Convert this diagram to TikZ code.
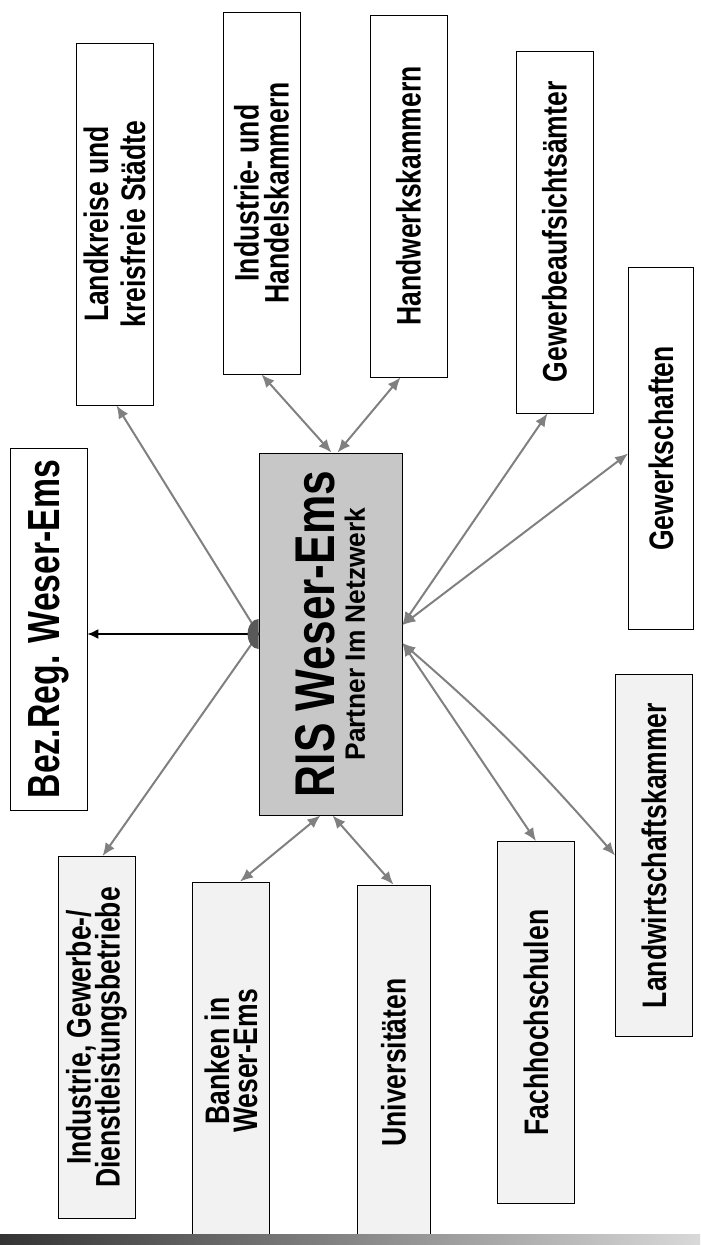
\documentclass[tikz,border=0pt]{standalone}
\usepackage{fontspec}
\setmainfont{Liberation Sans}
\usetikzlibrary{arrows.meta, calc, positioning}
\definecolor{linkGray}{gray}{0.5}
\definecolor{hubGray}{gray}{0.78}
\definecolor{blobGray}{gray}{0.35}
\definecolor{paleGray}{gray}{0.95}
\tikzset{
    partner/.style={draw, thin, fill=white, inner sep=0pt, minimum width=38.5pt, minimum height=181pt, font=\fontsize{17}{18.5}\selectfont\bfseries},
    hub/.style={draw, thin, fill=hubGray, inner sep=0pt, minimum width=71.5pt, minimum height=181pt, font=\fontsize{28}{15}\selectfont\bfseries},
    twoWay/.style={<->, >={Latex[length=6.5pt, width=5.5pt]}, draw=linkGray, line width=1pt},
    oneWay/.style={->, >={Latex[length=6.5pt, width=5.5pt]}, draw=linkGray, line width=1pt},
    govWay/.style={->, >={Latex[length=5.5pt, width=5pt]}, draw=black, line width=0.8pt},
}
\newcommand{\vtext}[2][0.78]{\rotatebox{90}{\scalebox{#1}[1]{\vbox{\lineskiplimit=-20pt\def\\{\cr}\halign{\hfil##\hfil\cr#2\crcr}}}}}
\newcommand{\chanBoth}[2]{\draw[twoWay] (#1) -- (#2);}
\newcommand{\chanOne}[2]{\draw[oneWay] (#1) -- (#2);}

\begin{document}
\begin{tikzpicture}[x=0.5pt, y=-0.5pt]
    \useasboundingbox (0,0) rectangle (700,1245);

        % upper partners
        \node[partner] (lk) at (114.5,224) {\vtext{Landkreise und\\kreisfreie Städte}};
        \node[partner, font=\fontsize{17}{15}\selectfont\bfseries] (ihk) at (261.5,193) {\raisebox{0pt}{\vtext{Industrie- und\\Handelskammern}}};
        \node[partner] (hwk) at (408.5,196) {\vtext{Handwerkskammern}};
        \node[partner] (gaa) at (554.5,232) {\vtext{Gewerbeaufsichtsämter}};
        \node[partner, minimum width=32.5pt] (gws) at (661,448.5) {\vtext{Gewerkschaften}};

        % centre
        \node[partner, font=\fontsize{22.5}{24}\selectfont\bfseries] (bez) at (48.5,629) {\vtext[0.75]{Bez.Reg. Weser-Ems}};
        \node[hub] (ris) at (330.5,634) {\vtext[0.79]{RIS Weser-Ems\\{\fontsize{14}{15}\selectfont\scalebox{1.19}[1]{Partner Im Netzwerk}}}};

        % lower partners
        \node[partner, fill=paleGray, font=\fontsize{17}{14.5}\selectfont\bfseries] (igd) at (96.5,1037.5) {\vtext{Industrie, Gewerbe-/\\Dienstleistungsbetriebe}};
        \node[partner, fill=paleGray, minimum height=179pt, font=\fontsize{17}{14}\selectfont\bfseries] (bank) at (231,1061) {\vtext{Banken in\\Weser-Ems}};
        \node[partner, fill=paleGray, minimum width=36.5pt, minimum height=177.5pt] (uni) at (393.5,1062.5) {\vtext{Universitäten}};
        \node[partner, fill=paleGray] (fhs) at (536,1022.5) {\vtext{Fachhochschulen}};
        \node[partner, fill=paleGray] (lwk) at (654,855.5) {\vtext{Landwirtschaftskammer}};

        \coordinate (risN1) at ($(ris.north)+(1,0)$);
        \coordinate (risN2) at ($(ris.north)+(7,0)$);
        \coordinate (risS1) at ($(ris.south)+(-10,0)$);
        \coordinate (risS2) at ($(ris.south)+(2,0)$);
        \coordinate (risE1) at ($(ris.east)+(0,-9)$);
        \coordinate (risE2) at ($(ris.east)+(0,9)$);

        \chanOne{ris.west}{[xshift=1pt]lk.south}
        \chanOne{ris.west}{[xshift=3pt]igd.north}
        \draw[govWay] (ris.west) -- (ris.west -| bez.east);
        \fill[blobGray] ($(ris.west)+(0,-15)$) arc[start angle=270, end angle=90, x radius=11, y radius=15] -- cycle;

        \chanBoth{ihk.south}{risN1}
        \chanBoth{[xshift=-4pt]hwk.south}{risN2}
        \chanBoth{[xshift=4.5pt]bank.north}{risS1}
        \chanBoth{uni.north}{risS2}
        \chanBoth{risE1}{[xshift=-3.5pt]gaa.south}
        \chanBoth{risE1}{[yshift=-2.5pt]gws.west}
        \chanBoth{risE2}{fhs.north}
        \draw[twoWay] (risE2) to[bend left=4] (lwk.west);

        % scan edge
        \shade[left color=black!80, right color=black!15] (0,1234) rectangle (700,1245);

    \end{tikzpicture}
\end{document}
